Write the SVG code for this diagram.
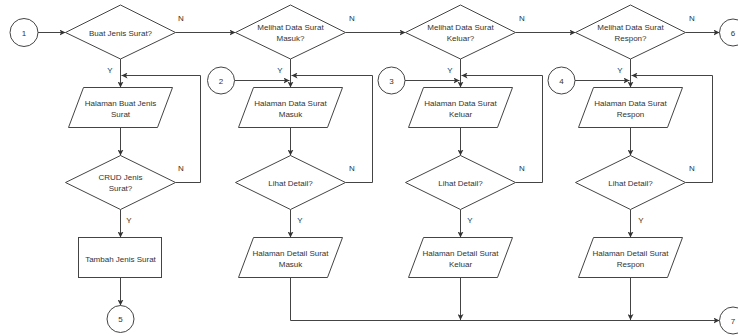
<svg xmlns="http://www.w3.org/2000/svg" width="738" height="336" viewBox="0 0 738 336">
<defs>
<marker id="arr" markerWidth="7" markerHeight="6" refX="6" refY="3" orient="auto" markerUnits="userSpaceOnUse">
<path d="M0,0 L6,3 L0,6 L1.5,3 z" fill="#333"/>
</marker>
<style>
.s{fill:#fff;stroke:#444;stroke-width:1}
.c{fill:none;stroke:#444;stroke-width:1}
.a{marker-end:url(#arr)}
text{font-family:"Liberation Sans",Arial,sans-serif;font-size:8px;fill:#333;text-anchor:middle}
</style>
</defs>
<rect width="738" height="336" fill="#fff"/>
<g id="connectors">
<path class="c a" d="M38,32.5 H65.5"/>
<path class="c a" d="M175.5,32.5 H235.5"/>
<path class="c a" d="M345.5,32.5 H405.5"/>
<path class="c a" d="M515.5,32.5 H575.5"/>
<path class="c a" d="M685.5,32.5 H719.5"/>
<path class="c a" d="M120.5,59 V87.5"/>
<path class="c a" d="M120.5,127.5 V155.5"/>
<path class="c a" d="M175.5,182.5 H200.5 V75.5 H121.5"/>
<path class="c a" d="M120.5,209.5 V237.5"/>
<path class="c a" d="M120.5,277.5 V305.5"/>
<path class="c a" d="M290.5,59 V87.5"/>
<path class="c a" d="M234.5,80.5 H289.5"/>
<path class="c a" d="M345.5,182.5 H372.5 V75.5 H291.5"/>
<path class="c a" d="M290.5,127.5 V155.5"/>
<path class="c a" d="M290.5,209.5 V237.5"/>
<path class="c a" d="M290.5,277.5 V320.5 H719.5"/>
<path class="c a" d="M460.5,59 V87.5"/>
<path class="c a" d="M405,80.5 H459.5"/>
<path class="c a" d="M515.5,182.5 H542.5 V75.5 H461.5"/>
<path class="c a" d="M460.5,127.5 V155.5"/>
<path class="c a" d="M460.5,209.5 V237.5"/>
<path class="c a" d="M460.5,277.5 V320"/>
<path class="c a" d="M630.5,59 V87.5"/>
<path class="c a" d="M575,80.5 H629.5"/>
<path class="c a" d="M685.5,182.5 H712.5 V75.5 H631.5"/>
<path class="c a" d="M630.5,127.5 V155.5"/>
<path class="c a" d="M630.5,209.5 V237.5"/>
<path class="c a" d="M630.5,277.5 V320"/>
<text x="181" y="21">N</text>
<text x="352" y="21">N</text>
<text x="522" y="21">N</text>
<text x="692" y="21">N</text>
<text x="110" y="73">Y</text>
<text x="280" y="73">Y</text>
<text x="450" y="73">Y</text>
<text x="620" y="73">Y</text>
<text x="181" y="171">N</text>
<text x="352" y="171">N</text>
<text x="522" y="171">N</text>
<text x="692" y="171">N</text>
<text x="129" y="223">Y</text>
<text x="300" y="223">Y</text>
<text x="470" y="223">Y</text>
<text x="641" y="223">Y</text>
</g>
<g id="c1"><circle class="s" cx="24" cy="32.5" r="14"/><text x="24" y="35.5">1</text></g>
<g id="d1"><polygon class="s" points="120.5,5 175.5,32.5 120.5,59 65.5,32.5"/><text x="120.5" y="35.5">Buat Jenis Surat?</text></g>
<g id="p1"><polygon class="s" points="83.5,87.5 172.5,87.5 157.5,127.5 68.5,127.5"/><text x="120.5" y="106">Halaman Buat Jenis</text><text x="120.5" y="117">Surat</text></g>
<g id="d1b"><polygon class="s" points="120.5,155.5 175.5,182.5 120.5,209.5 65.5,182.5"/><text x="120.5" y="180">CRUD Jenis</text><text x="120.5" y="191">Surat?</text></g>
<g id="r1"><rect class="s" x="78.5" y="237.5" width="83" height="40"/><text x="120.5" y="262">Tambah Jenis Surat</text></g>
<g id="c5"><circle class="s" cx="120.5" cy="319" r="13.5"/><text x="120.5" y="322">5</text></g>

<g id="d2"><polygon class="s" points="290.5,5 345.5,32.5 290.5,59 235.5,32.5"/><text x="290.5" y="30">Melihat Data Surat</text><text x="290.5" y="41">Masuk?</text></g>
<g id="c2"><circle class="s" cx="221" cy="80.5" r="13.5"/><text x="221" y="83.5">2</text></g>
<g id="p2"><polygon class="s" points="253.5,87.5 342.5,87.5 327.5,127.5 238.5,127.5"/><text x="290.5" y="106">Halaman Data Surat</text><text x="290.5" y="117">Masuk</text></g>
<g id="d2b"><polygon class="s" points="290.5,155.5 345.5,182.5 290.5,209.5 235.5,182.5"/><text x="290.5" y="186">Lihat Detail?</text></g>
<g id="p2b"><polygon class="s" points="253.5,237.5 342.5,237.5 327.5,277.5 238.5,277.5"/><text x="290.5" y="256">Halaman Detail Surat</text><text x="290.5" y="267">Masuk</text></g>

<g id="d3"><polygon class="s" points="460.5,5 515.5,32.5 460.5,59 405.5,32.5"/><text x="460.5" y="30">Melihat Data Surat</text><text x="460.5" y="41">Keluar?</text></g>
<g id="c3"><circle class="s" cx="391.5" cy="80.5" r="13.5"/><text x="391.5" y="83.5">3</text></g>
<g id="p3"><polygon class="s" points="423.5,87.5 512.5,87.5 497.5,127.5 408.5,127.5"/><text x="460.5" y="106">Halaman Data Surat</text><text x="460.5" y="117">Keluar</text></g>
<g id="d3b"><polygon class="s" points="460.5,155.5 515.5,182.5 460.5,209.5 405.5,182.5"/><text x="460.5" y="186">Lihat Detail?</text></g>
<g id="p3b"><polygon class="s" points="423.5,237.5 512.5,237.5 497.5,277.5 408.5,277.5"/><text x="460.5" y="256">Halaman Detail Surat</text><text x="460.5" y="267">Keluar</text></g>

<g id="d4"><polygon class="s" points="630.5,5 685.5,32.5 630.5,59 575.5,32.5"/><text x="630.5" y="30">Melihat Data Surat</text><text x="630.5" y="41">Respon?</text></g>
<g id="c4"><circle class="s" cx="561.5" cy="80.5" r="13.5"/><text x="561.5" y="83.5">4</text></g>
<g id="p4"><polygon class="s" points="593.5,87.5 682.5,87.5 667.5,127.5 578.5,127.5"/><text x="630.5" y="106">Halaman Data Surat</text><text x="630.5" y="117">Respon</text></g>
<g id="d4b"><polygon class="s" points="630.5,155.5 685.5,182.5 630.5,209.5 575.5,182.5"/><text x="630.5" y="186">Lihat Detail?</text></g>
<g id="p4b"><polygon class="s" points="593.5,237.5 682.5,237.5 667.5,277.5 578.5,277.5"/><text x="630.5" y="256">Halaman Detail Surat</text><text x="630.5" y="267">Respon</text></g>

<g id="c6"><circle class="s" cx="733" cy="32.5" r="13.5"/><text x="733" y="35.5">6</text></g>
<g id="c7"><circle class="s" cx="733" cy="320.5" r="13.5"/><text x="733" y="323.5">7</text></g>
</svg>
